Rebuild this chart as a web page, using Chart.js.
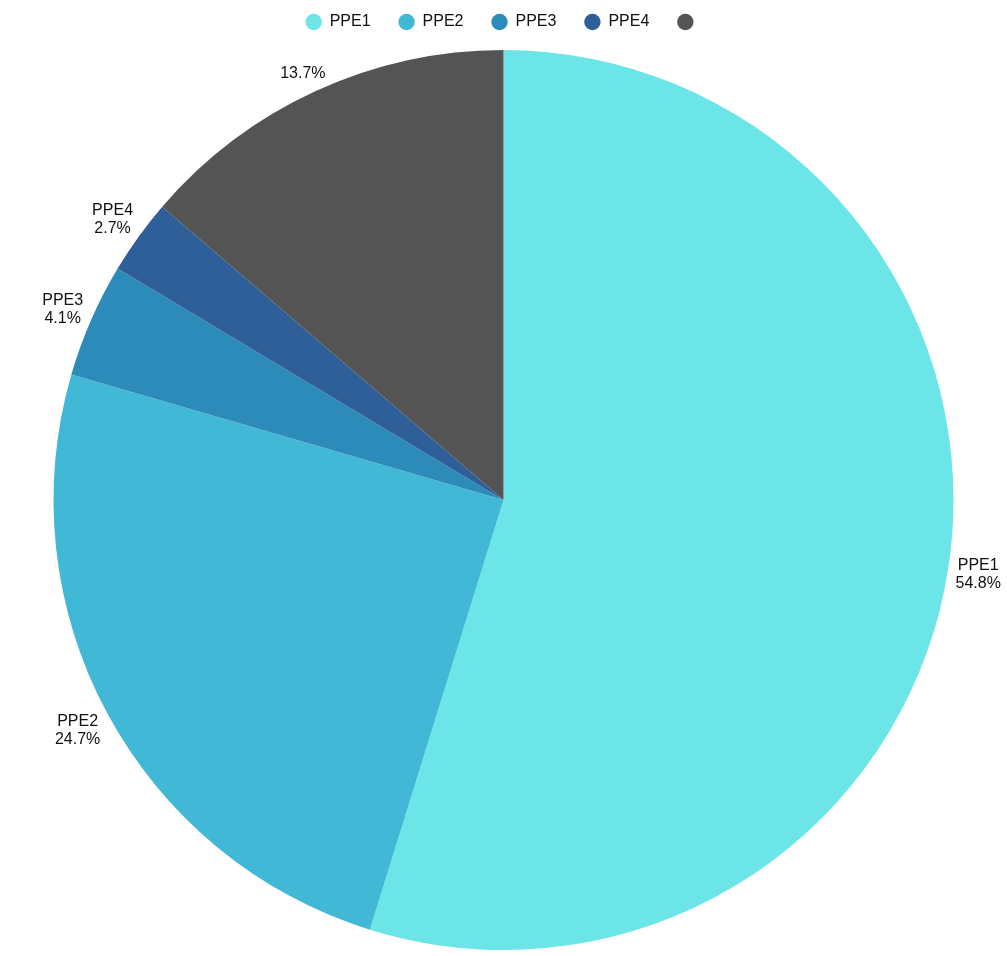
<!DOCTYPE html>
<html>
<head>
<meta charset="utf-8">
<script src="https://cdn.jsdelivr.net/npm/chart.js@4/dist/chart.umd.min.js"></script>
<style>
  html, body { margin: 0; padding: 0; background: #ffffff; }
  #wrap { width: 1007px; height: 956px; position: relative; }
</style>
</head>
<body>
<div id="wrap"><canvas id="c"></canvas></div>
<script>
const categories = ['PPE1', 'PPE2', 'PPE3', 'PPE4', ''];
const values = [54.8, 24.7, 4.1, 2.7, 13.7];
const colors = ['#6ce5e8', '#41b8d5', '#2d8bba', '#2f5f98', '#545454'];

const legendGap = {
  id: 'legendGap',
  beforeInit(chart) {
    const orig = chart.legend.fit;
    chart.legend.fit = function () {
      orig.call(this);
      this.height += 10;
    };
  }
};

const outsideLabels = {
  id: 'outsideLabels',
  afterDatasetsDraw(chart) {
    const ctx = chart.ctx;
    const meta = chart.getDatasetMeta(0);
    const data = chart.data.datasets[0].data;
    const total = data.reduce((a, b) => a + b, 0);
    const lineH = 18;
    ctx.save();
    ctx.font = '16px "Liberation Sans", Arial, sans-serif';
    ctx.fillStyle = '#111111';
    ctx.textAlign = 'center';
    ctx.textBaseline = 'middle';
    meta.data.forEach((arc, i) => {
      const p = arc.getProps(['x', 'y', 'startAngle', 'endAngle', 'outerRadius'], true);
      const mid = (p.startAngle + p.endAngle) / 2;
      const pct = (data[i] / total * 100).toFixed(1) + '%';
      const name = chart.data.labels[i];
      const w = Math.max(ctx.measureText(name).width, ctx.measureText(pct).width);
      const h = lineH * 2;
      const c = Math.cos(mid), s = Math.sin(mid);
      const r = p.outerRadius + 5 + Math.abs(c) * w / 2 + Math.abs(s) * h / 2;
      const cx = p.x + c * r;
      const cy = p.y + s * r + 2;
      ctx.fillText(name, cx, cy - lineH / 2);
      ctx.fillText(pct, cx, cy + lineH / 2);
    });
    ctx.restore();
  }
};

new Chart(document.getElementById('c'), {
  type: 'pie',
  data: {
    labels: categories,
    datasets: [{
      data: values,
      backgroundColor: colors,
      borderWidth: 0
    }]
  },
  options: {
    responsive: true,
    maintainAspectRatio: false,
    animation: false,
    layout: { padding: { top: -14, bottom: 6, left: 0, right: 0 } },
    plugins: {
      legend: {
        position: 'top',
        labels: {
          usePointStyle: true,
          pointStyle: 'circle',
          boxWidth: 16,
          boxHeight: 11.6,
          padding: 28,
          color: '#111111',
          font: { family: '"Liberation Sans", Arial, sans-serif', size: 16 }
        }
      },
      tooltip: { enabled: false }
    }
  },
  plugins: [legendGap, outsideLabels]
});
</script>
</body>
</html>
